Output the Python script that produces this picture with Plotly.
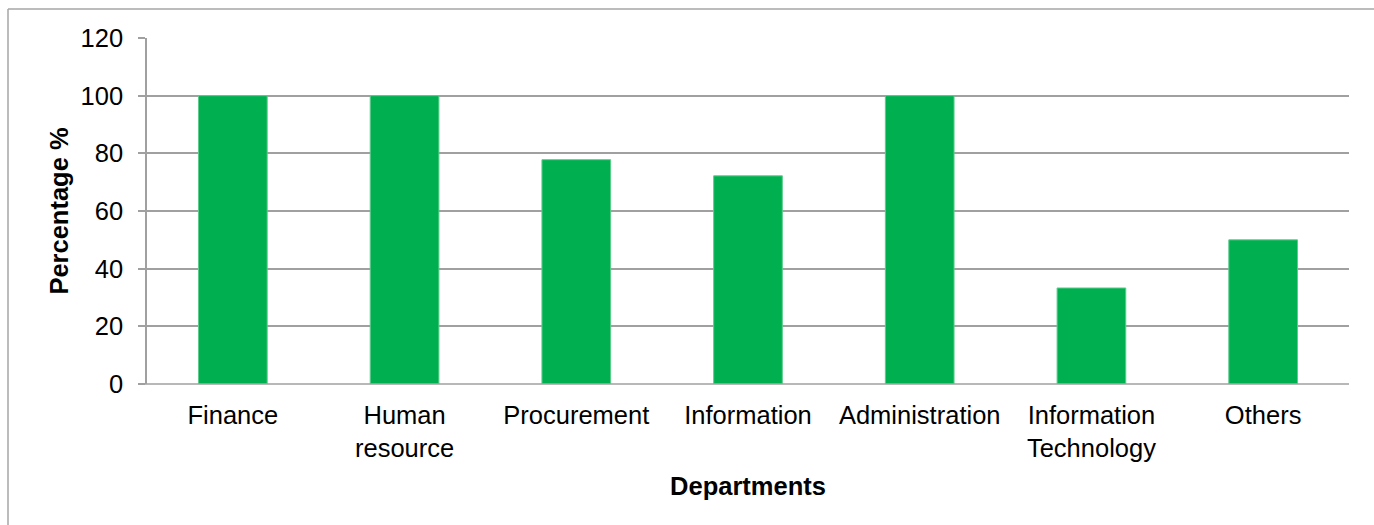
import plotly.graph_objects as go

departments = ["Finance", "Human<br>resource", "Procurement", "Information",
               "Administration", "Information<br>Technology", "Others"]
percentages = [100, 100, 77.8, 72.2, 100, 33.3, 50]
y_ticks = [0, 20, 40, 60, 80, 100, 120]

W, H = 1374, 525
ML, MR, MT, MB = 147, 25, 38, 141
PW, PH = W - ML - MR, H - MT - MB

def px_x(px):
    return (px - ML) / PW

def px_y(py):
    return (H - MB - py) / PH

GRID = "#a0a0a0"
FONT = "Liberation Sans, Arial, sans-serif"
FS = 25.5

fig = go.Figure(go.Bar(
    x=departments,
    y=percentages,
    marker=dict(color="#00b050", line=dict(color="#5ccc8c", width=1)),
    width=0.4,
    hoverinfo="skip",
))

fig.update_layout(
    width=W, height=H,
    margin=dict(l=ML, r=MR, t=MT, b=MB, pad=0),
    plot_bgcolor="white",
    paper_bgcolor="white",
    showlegend=False,
    font=dict(family=FONT, size=FS, color="#000000"),
    xaxis=dict(
        showline=False,
        showgrid=False,
        ticks="",
        ticklabelstandoff=13,
        tickfont=dict(size=FS),
        title=dict(text="<b>Departments</b>", font=dict(size=FS), standoff=16),
        range=[-0.5, 6.5],
        fixedrange=True,
    ),
    yaxis=dict(
        range=[0, 120],
        tickvals=y_ticks,
        showgrid=True,
        gridcolor=GRID,
        gridwidth=1.5,
        showline=True,
        linecolor=GRID,
        linewidth=1.5,
        ticks="outside",
        ticklen=7,
        tickcolor=GRID,
        tickwidth=1.5,
        ticklabelstandoff=10,
        tickfont=dict(size=FS),
        title=dict(text="<b>Percentage %</b>", font=dict(size=FS), standoff=5),
        zeroline=False,
        fixedrange=True,
    ),
    shapes=[
        # chart frame: top and left edges
        dict(type="line", xref="paper", yref="paper",
             x0=px_x(8), x1=px_x(W), y0=px_y(9), y1=px_y(9),
             line=dict(color="#a6a6a6", width=1.5)),
        dict(type="line", xref="paper", yref="paper",
             x0=px_x(8), x1=px_x(8), y0=px_y(9), y1=px_y(H),
             line=dict(color="#a6a6a6", width=1.5)),
        # baseline
        dict(type="line", xref="paper", yref="paper",
             x0=px_x(140), x1=1, y0=0, y1=0,
             line=dict(color=GRID, width=1.5)),
    ],
)

fig.write_html("out.html")
